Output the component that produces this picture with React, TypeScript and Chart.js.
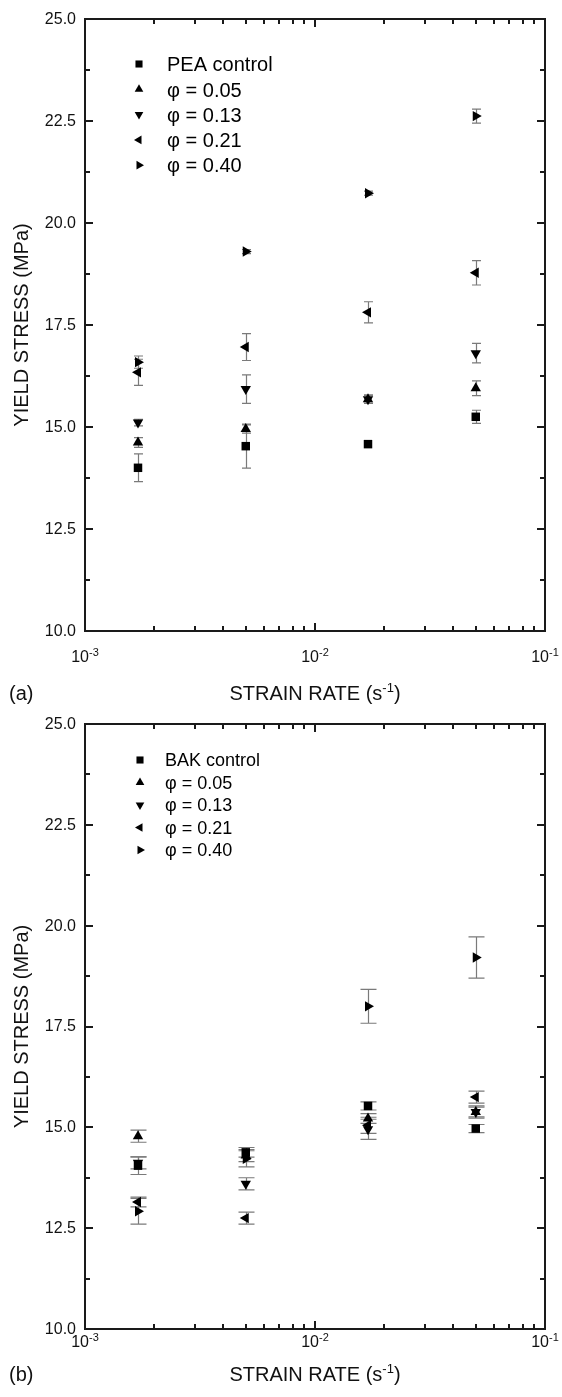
import React, { useEffect, useRef } from 'react';
import { Chart, registerables } from 'chart.js';

Chart.register(...registerables);

// ---------- data ----------
const strainRates = [0.0017, 0.005, 0.017, 0.05];

const labelsA = ['PEA control', 'φ = 0.05', 'φ = 0.13', 'φ = 0.21', 'φ = 0.40'];
const labelsB = ['BAK control', 'φ = 0.05', 'φ = 0.13', 'φ = 0.21', 'φ = 0.40'];

// panel (a)
const peaControl = [14.0, 14.53, 14.58, 15.25];
const peaControlErr = [0.34, 0.54, 0.0, 0.16];
const peaPhi005 = [14.62, 14.95, 15.68, 15.95];
const peaPhi005Err = [0.12, 0.1, 0.1, 0.18];
const peaPhi013 = [15.11, 15.93, 15.68, 16.81];
const peaPhi013Err = [0.08, 0.35, 0.1, 0.24];
const peaPhi021 = [16.34, 16.96, 17.81, 18.78];
const peaPhi021Err = [0.32, 0.33, 0.26, 0.3];
const peaPhi040 = [16.59, 19.3, 20.73, 22.62];
const peaPhi040Err = [0.15, 0.05, 0.05, 0.17];

// panel (b)
const bakControl = [14.05, 14.38, 15.53, 14.97];
const bakControlErr = [0.22, 0.12, 0.1, 0.1];
const bakPhi005 = [14.78, 14.3, 15.22, 15.38];
const bakPhi005Err = [0.15, 0.15, 0.12, 0.15];
const bakPhi013 = [14.12, 13.6, 14.95, 15.38];
const bakPhi013Err = [0.15, 0.15, 0.25, 0.12];
const bakPhi021 = [13.15, 12.75, 15.05, 15.75];
const bakPhi021Err = [0.12, 0.15, 0.2, 0.15];
const bakPhi040 = [12.92, 14.22, 18.0, 19.21];
const bakPhi040Err = [0.32, 0.2, 0.42, 0.51];

// axes / ticks
const yMin = 10;
const yMax = 25;
const yMajorTicks = [10, 12.5, 15, 17.5, 20, 22.5, 25];
const yTickLabels = ['10.0', '12.5', '15.0', '17.5', '20.0', '22.5', '25.0'];
const yMinorTicks = [11.25, 13.75, 16.25, 18.75, 21.25, 23.75];
const xMin = 0.001;
const xMax = 0.1;
const xMajorTicks = [0.001, 0.01, 0.1];
const xTickExponents = ['-3', '-2', '-1'];
const xMinorMantissas = [2, 3, 4, 5, 6, 7, 8, 9];
const xMinorDecades = [0.001, 0.01];

const markerStyles = ['rect', 'triangle', 'triangle', 'triangle', 'triangle'];
const markerRotations = [0, 0, 180, -90, 90];

const FONT = "'Liberation Sans', Arial, Helvetica, sans-serif";

type PanelCfg = {
  canvasTop: number;
  canvasHeight: number;
  areaTop: number;
  areaBottom: number;
  labels: string[];
  values: number[][];
  errors: number[][];
  capWidth: number;
  xTickBaseline: number;
  titleBaseline: number;
  panelLabel: string;
  legendX: number;
  legendTextX: number;
  legendY0: number;
  legendStep: number;
  legendFont: number;
};

const AREA_LEFT = 85;
const AREA_RIGHT = 545;
const WIDTH = 562;

function drawMarker(ctx: CanvasRenderingContext2D, style: string, rotation: number, x: number, y: number, r: number) {
  ctx.beginPath();
  if (style === 'rect') {
    const s = Math.SQRT1_2 * r;
    ctx.rect(x - s, y - s, 2 * s, 2 * s);
  } else {
    let rad = (rotation * Math.PI) / 180;
    ctx.moveTo(x + Math.sin(rad) * r, y - Math.cos(rad) * r);
    rad += (2 * Math.PI) / 3;
    ctx.lineTo(x + Math.sin(rad) * r, y - Math.cos(rad) * r);
    rad += (2 * Math.PI) / 3;
    ctx.lineTo(x + Math.sin(rad) * r, y - Math.cos(rad) * r);
    ctx.closePath();
  }
  ctx.fill();
}

function makePlugin(cfg: PanelCfg) {
  const off = cfg.canvasTop;
  return {
    id: 'paperDecor',
    beforeDatasetsDraw(chart: any) {
      const ctx: CanvasRenderingContext2D = chart.ctx;
      const ys = chart.scales.y;
      ctx.save();
      ctx.strokeStyle = '#7a7a7a';
      ctx.lineWidth = 1.2;
      cfg.values.forEach((vals, i) => {
        const meta = chart.getDatasetMeta(i);
        vals.forEach((v, j) => {
          const e = cfg.errors[i][j];
          if (!e) return;
          const x = Math.round(meta.data[j].x) + 0.5;
          const y1 = ys.getPixelForValue(v + e);
          const y2 = ys.getPixelForValue(v - e);
          const hw = cfg.capWidth / 2;
          ctx.beginPath();
          ctx.moveTo(x, y1);
          ctx.lineTo(x, y2);
          ctx.moveTo(x - hw, y1);
          ctx.lineTo(x + hw, y1);
          ctx.moveTo(x - hw, y2);
          ctx.lineTo(x + hw, y2);
          ctx.stroke();
        });
      });
      ctx.restore();
    },
    afterDraw(chart: any) {
      const ctx: CanvasRenderingContext2D = chart.ctx;
      const { left, right, top, bottom } = chart.chartArea;
      const xs = chart.scales.x;
      const ys = chart.scales.y;
      ctx.save();
      ctx.strokeStyle = '#1a1a1a';
      ctx.fillStyle = '#111';
      ctx.lineWidth = 2;
      ctx.strokeRect(left, top, right - left, bottom - top);

      const yTick = (v: number, len: number) => {
        const y = Math.round(ys.getPixelForValue(v));
        ctx.beginPath();
        ctx.moveTo(left, y);
        ctx.lineTo(left + len, y);
        ctx.moveTo(right, y);
        ctx.lineTo(right - len, y);
        ctx.stroke();
      };
      yMajorTicks.forEach((v) => yTick(v, 8));
      yMinorTicks.forEach((v) => yTick(v, 5));

      const xTick = (v: number, len: number) => {
        const x = Math.round(xs.getPixelForValue(v));
        ctx.beginPath();
        ctx.moveTo(x, bottom);
        ctx.lineTo(x, bottom - len);
        ctx.moveTo(x, top);
        ctx.lineTo(x, top + len);
        ctx.stroke();
      };
      xMajorTicks.forEach((v) => xTick(v, 8));
      xMinorDecades.forEach((d) => xMinorMantissas.forEach((m) => xTick(m * d, 5)));

      ctx.font = `16px ${FONT}`;
      ctx.textAlign = 'right';
      ctx.textBaseline = 'middle';
      yMajorTicks.forEach((v, i) => {
        ctx.fillText(yTickLabels[i], left - 9, ys.getPixelForValue(v) + 0.5);
      });

      ctx.textBaseline = 'alphabetic';
      ctx.textAlign = 'left';
      const xb = cfg.xTickBaseline - off;
      xMajorTicks.forEach((v, i) => {
        const x = xs.getPixelForValue(v);
        ctx.font = `16px ${FONT}`;
        const wBase = ctx.measureText('10').width;
        ctx.font = `11px ${FONT}`;
        const wExp = ctx.measureText(xTickExponents[i]).width;
        const x0 = x - (wBase + wExp) / 2;
        ctx.font = `16px ${FONT}`;
        ctx.fillText('10', x0, xb);
        ctx.font = `11px ${FONT}`;
        ctx.fillText(xTickExponents[i], x0 + wBase, xb - 6);
      });

      const tb = cfg.titleBaseline - off;
      ctx.font = `20px ${FONT}`;
      const t1 = 'STRAIN RATE (s';
      const t3 = ')';
      const w1 = ctx.measureText(t1).width;
      const w3 = ctx.measureText(t3).width;
      ctx.font = `13px ${FONT}`;
      const t2 = '-1';
      const w2 = ctx.measureText(t2).width;
      const cx = (left + right) / 2;
      const tx = cx - (w1 + w2 + w3) / 2;
      ctx.font = `20px ${FONT}`;
      ctx.fillText(t1, tx, tb);
      ctx.fillText(t3, tx + w1 + w2, tb);
      ctx.font = `13px ${FONT}`;
      ctx.fillText(t2, tx + w1, tb - 8);

      ctx.font = `20px ${FONT}`;
      ctx.fillText(cfg.panelLabel, 9, tb);

      ctx.save();
      ctx.translate(28, (top + bottom) / 2);
      ctx.rotate(-Math.PI / 2);
      ctx.textAlign = 'center';
      ctx.textBaseline = 'alphabetic';
      ctx.font = `20px ${FONT}`;
      ctx.fillText('YIELD STRESS (MPa)', 0, 0);
      ctx.restore();

      ctx.fillStyle = '#000';
      cfg.labels.forEach((lab, i) => {
        const y = cfg.legendY0 + i * cfg.legendStep - off;
        drawMarker(ctx, markerStyles[i], markerRotations[i], cfg.legendX, y, 5);
        ctx.font = `${cfg.legendFont}px ${FONT}`;
        ctx.textAlign = 'left';
        ctx.textBaseline = 'alphabetic';
        ctx.fillText(lab, cfg.legendTextX, y + cfg.legendFont * 0.36);
      });
      ctx.restore();
    },
  };
}

function Panel({ cfg }: { cfg: PanelCfg }) {
  const ref = useRef<HTMLCanvasElement | null>(null);
  useEffect(() => {
    const canvas = ref.current;
    if (!canvas) return;
    const datasets = cfg.values.map((vals, i) => ({
      label: cfg.labels[i],
      data: vals.map((v, j) => ({ x: strainRates[j], y: v })),
      pointStyle: markerStyles[i] as any,
      rotation: markerRotations[i],
      pointRadius: 6,
      pointHoverRadius: 6,
      backgroundColor: '#000',
      borderColor: '#000',
      borderWidth: 0,
      showLine: false,
    }));
    const chart = new Chart(canvas, {
      type: 'scatter',
      data: { datasets },
      options: {
        animation: false,
        responsive: false,
        maintainAspectRatio: false,
        devicePixelRatio: 1,
        layout: {
          padding: {
            left: AREA_LEFT,
            right: WIDTH - AREA_RIGHT,
            top: cfg.areaTop - cfg.canvasTop,
            bottom: cfg.canvasTop + cfg.canvasHeight - cfg.areaBottom,
          },
        },
        plugins: { legend: { display: false }, tooltip: { enabled: false }, title: { display: false } },
        scales: {
          x: { type: 'logarithmic', min: xMin, max: xMax, display: false },
          y: { type: 'linear', min: yMin, max: yMax, display: false },
        },
      },
      plugins: [makePlugin(cfg)],
    });
    return () => chart.destroy();
  }, [cfg]);
  return (
    <canvas
      ref={ref}
      width={WIDTH}
      height={cfg.canvasHeight}
      style={{ position: 'absolute', left: 0, top: cfg.canvasTop, width: WIDTH, height: cfg.canvasHeight, display: 'block' }}
    />
  );
}

const panelA: PanelCfg = {
  canvasTop: 0,
  canvasHeight: 712,
  areaTop: 19,
  areaBottom: 631,
  labels: labelsA,
  values: [peaControl, peaPhi005, peaPhi013, peaPhi021, peaPhi040],
  errors: [peaControlErr, peaPhi005Err, peaPhi013Err, peaPhi021Err, peaPhi040Err],
  capWidth: 9,
  xTickBaseline: 662,
  titleBaseline: 700,
  panelLabel: '(a)',
  legendX: 139,
  legendTextX: 167,
  legendY0: 64,
  legendStep: 25.3,
  legendFont: 20,
};

const panelB: PanelCfg = {
  canvasTop: 712,
  canvasHeight: 685,
  areaTop: 724,
  areaBottom: 1329,
  labels: labelsB,
  values: [bakControl, bakPhi005, bakPhi013, bakPhi021, bakPhi040],
  errors: [bakControlErr, bakPhi005Err, bakPhi013Err, bakPhi021Err, bakPhi040Err],
  capWidth: 16,
  xTickBaseline: 1347,
  titleBaseline: 1381,
  panelLabel: '(b)',
  legendX: 140,
  legendTextX: 165,
  legendY0: 760,
  legendStep: 22.5,
  legendFont: 18,
};

export default function App() {
  return (
    <div style={{ position: 'absolute', left: 0, top: 0, width: WIDTH, height: 1397, background: '#fff' }}>
      <Panel cfg={panelA} />
      <Panel cfg={panelB} />
    </div>
  );
}
